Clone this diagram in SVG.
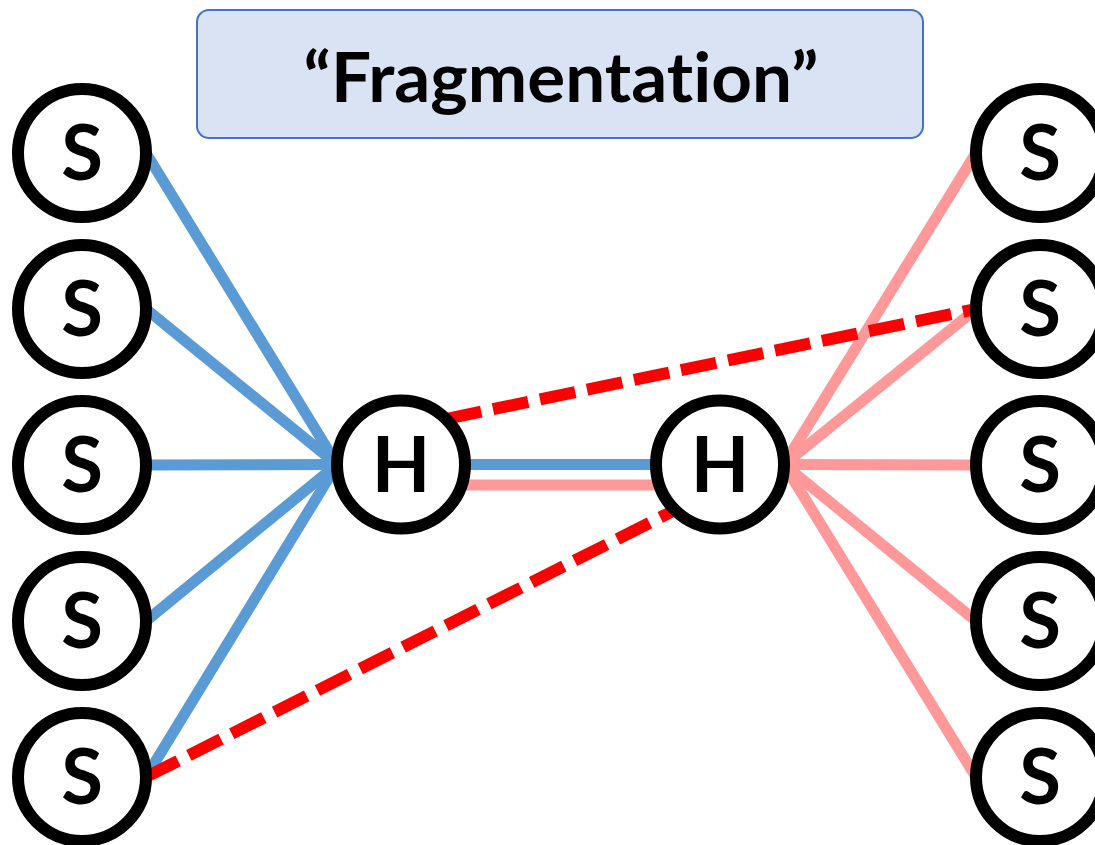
<svg xmlns="http://www.w3.org/2000/svg" width="1095" height="845" viewBox="0 0 1095 845">
<style>
.node{fill:#fff;stroke:#000;stroke-width:12}
.lbl{font-family:Lato,"Liberation Sans",sans-serif;font-weight:bold;font-size:76px;text-anchor:middle;fill:#000}
.blue{stroke:#5B9BD5;stroke-width:11;fill:none}
.pink{stroke:#FF9999;stroke-width:11;fill:none}
.red{stroke:#FF0000;stroke-width:12;stroke-dasharray:36 12;fill:none}
</style>
<rect width="1095" height="845" fill="#fff"/>
<g id="title">
<rect x="197" y="10" width="726" height="128" rx="12" fill="#DAE3F3" stroke="#4472C4" stroke-width="2"/>
<text x="561" y="102" font-family="Lato,'Liberation Sans',sans-serif" font-weight="bold" font-size="68" text-anchor="middle" style="font-variant-ligatures:none" textLength="515" lengthAdjust="spacingAndGlyphs">“Fragmentation”</text>
</g>
<g id="connectors">
<line class="blue" x1="146" y1="153" x2="337" y2="464.5"/>
<line class="blue" x1="146" y1="309" x2="337" y2="464.5"/>
<line class="blue" x1="146" y1="465" x2="337" y2="464.5"/>
<line class="blue" x1="146" y1="621" x2="337" y2="464.5"/>
<line class="blue" x1="146" y1="777" x2="337" y2="464.5"/>
<line class="blue" x1="401" y1="464.5" x2="720" y2="464.5"/>
<line class="pink" x1="401" y1="485" x2="720" y2="485"/>
<line class="pink" x1="784" y1="464.5" x2="976" y2="153"/>
<line class="pink" x1="784" y1="464.5" x2="976" y2="309"/>
<line class="pink" x1="784" y1="464.5" x2="976" y2="465"/>
<line class="pink" x1="784" y1="464.5" x2="976" y2="621"/>
<line class="pink" x1="784" y1="464.5" x2="976" y2="777"/>
<line class="red" x1="446" y1="419" x2="976" y2="309"/>
<line class="red" x1="146" y1="777" x2="675" y2="510"/>
</g>
<g id="sL1"><circle class="node" cx="82" cy="153" r="64"/><text class="lbl" x="82" y="180">S</text></g>
<g id="sL2"><circle class="node" cx="82" cy="309" r="64"/><text class="lbl" x="82" y="336">S</text></g>
<g id="sL3"><circle class="node" cx="82" cy="465" r="64"/><text class="lbl" x="82" y="492">S</text></g>
<g id="sL4"><circle class="node" cx="82" cy="621" r="64"/><text class="lbl" x="82" y="648">S</text></g>
<g id="sL5"><circle class="node" cx="82" cy="777" r="64"/><text class="lbl" x="82" y="804">S</text></g>
<g id="hL"><circle class="node" cx="401" cy="464.5" r="64"/><text class="lbl" x="401" y="492">H</text></g>
<g id="hR"><circle class="node" cx="720" cy="464.5" r="64"/><text class="lbl" x="720" y="492">H</text></g>
<g id="sR1"><circle class="node" cx="1040" cy="153" r="64"/><text class="lbl" x="1040" y="180">S</text></g>
<g id="sR2"><circle class="node" cx="1040" cy="309" r="64"/><text class="lbl" x="1040" y="336">S</text></g>
<g id="sR3"><circle class="node" cx="1040" cy="465" r="64"/><text class="lbl" x="1040" y="492">S</text></g>
<g id="sR4"><circle class="node" cx="1040" cy="621" r="64"/><text class="lbl" x="1040" y="648">S</text></g>
<g id="sR5"><circle class="node" cx="1040" cy="777" r="64"/><text class="lbl" x="1040" y="804">S</text></g>
</svg>
